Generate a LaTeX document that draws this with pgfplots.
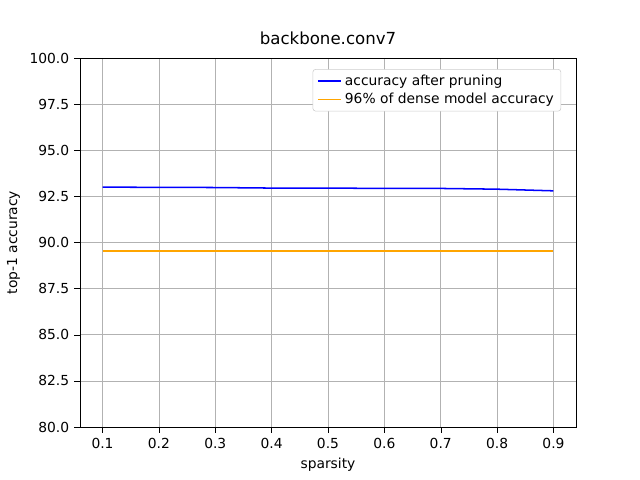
\documentclass[border=0pt]{standalone}
\usepackage{pgfplots}
\pgfplotsset{compat=1.18}
\usepackage{fontspec}
\setmainfont{DejaVu Sans}
\definecolor{mplorange}{HTML}{FFA500}
\begin{document}
\fontsize{10}{12}\selectfont
\begin{tikzpicture}
\path (-0.80in,-0.53in) rectangle (5.60in,4.27in);
\begin{axis}[at={(0,0)},anchor=origin,scale only axis,width=4.96in,height=3.69in,
 xmin=0.06,xmax=0.94,ymin=80,ymax=100,
 xtick={0.1,0.2,...,0.9},ytick={80,82.5,...,100},
 xticklabel style={/pgf/number format/.cd,fixed,precision=1,fixed zerofill},
 yticklabel style={/pgf/number format/.cd,fixed,precision=1,fixed zerofill},
 /pgf/number format/assume math mode=true,
 grid=major,grid style={gray!60},
 tick align=outside,tick style={black},
 xtick pos=left,ytick pos=left,
 xlabel={sparsity},ylabel={top-1 accuracy},title={backbone.conv7},
 title style={font=\fontsize{12}{14}\selectfont},
 legend pos=north east,legend cell align=left,
 legend style={draw=gray!40,rounded corners=2pt,font=\fontsize{10}{12}\selectfont}]
\addplot[color=blue,line width=1.1pt] coordinates {(0.1,93.0)(0.2,92.99)(0.3,92.98)(0.4,92.95)(0.5,92.95)(0.6,92.93)(0.7,92.93)(0.8,92.89)(0.9,92.8)};
\addlegendimage{color=blue,line width=1.1pt}
\addplot[color=mplorange,line width=1.1pt] coordinates {(0.1,89.54)(0.9,89.54)};
\addlegendimage{color=mplorange,line width=1.1pt}
\legend{}
\end{axis}
\begin{axis}[at={(0,0)},anchor=origin,scale only axis,width=4.96in,height=3.69in,
 xmin=0,xmax=1,ymin=0,ymax=1,hide axis,
 legend pos=north east,legend cell align=left,
 legend style={draw=gray!40,rounded corners=2pt,font=\fontsize{10}{12}\selectfont}]
\addlegendimage{color=blue,line width=1.1pt}
\addlegendentry{accuracy after pruning}
\addlegendimage{color=mplorange,line width=1.1pt}
\addlegendentry{96\% of dense model accuracy}
\end{axis}
\end{tikzpicture}
\end{document}
